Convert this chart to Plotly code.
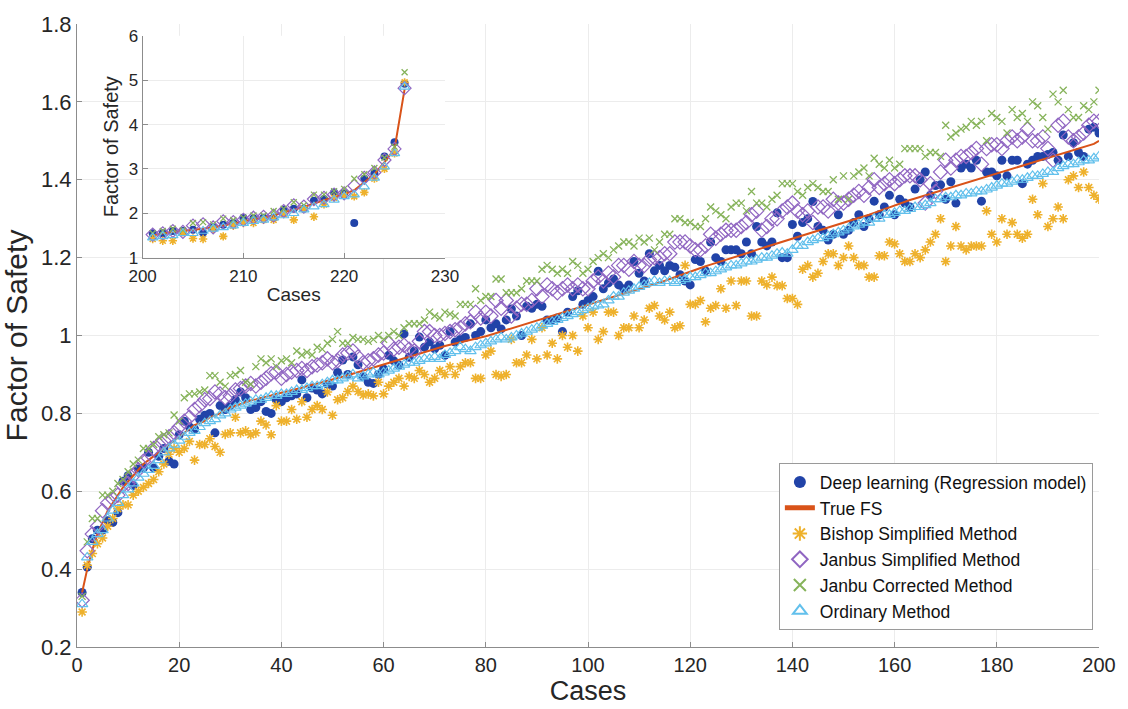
import plotly.graph_objects as go

# ---------------- main chart data (cases 1..200) ----------------
cases = list(range(1, 201))

true_fs = [
    0.34, 0.40, 0.45, 0.49, 0.52, 0.55, 0.57, 0.59, 0.61, 0.625,
    0.64, 0.655, 0.67, 0.68, 0.69, 0.70, 0.71, 0.72, 0.73, 0.74,
    0.75, 0.76, 0.77, 0.775, 0.78, 0.79, 0.795, 0.80, 0.81, 0.815,
    0.82, 0.825, 0.83, 0.833, 0.836, 0.84, 0.843, 0.846, 0.85, 0.853,
    0.857, 0.86, 0.863, 0.866, 0.87, 0.873, 0.876, 0.88, 0.883, 0.887,
    0.89, 0.894, 0.898, 0.902, 0.906, 0.91, 0.914, 0.918, 0.922, 0.926,
    0.93, 0.934, 0.938, 0.942, 0.946, 0.95, 0.954, 0.958, 0.962, 0.966,
    0.97, 0.973, 0.976, 0.979, 0.982, 0.985, 0.988, 0.991, 0.994, 0.998,
    1.002, 1.006, 1.01, 1.014, 1.018, 1.022, 1.026, 1.03, 1.034, 1.038,
    1.042, 1.046, 1.05, 1.054, 1.058, 1.062, 1.066, 1.07, 1.074, 1.078,
    1.082, 1.086, 1.09, 1.094, 1.098, 1.102, 1.106, 1.11, 1.114, 1.118,
    1.122, 1.126, 1.13, 1.135, 1.14, 1.145, 1.15, 1.155, 1.16, 1.165,
    1.17, 1.174, 1.178, 1.182, 1.186, 1.19, 1.194, 1.198, 1.202, 1.206,
    1.21, 1.215, 1.22, 1.224, 1.228, 1.232, 1.236, 1.24, 1.244, 1.248,
    1.252, 1.256, 1.26, 1.264, 1.268, 1.272, 1.276, 1.28, 1.285, 1.29,
    1.294, 1.298, 1.302, 1.306, 1.31, 1.315, 1.32, 1.325, 1.33, 1.335,
    1.34, 1.344, 1.348, 1.352, 1.356, 1.36, 1.364, 1.368, 1.372, 1.376,
    1.38, 1.384, 1.388, 1.392, 1.396, 1.40, 1.404, 1.408, 1.412, 1.416,
    1.42, 1.424, 1.428, 1.432, 1.436, 1.44, 1.444, 1.448, 1.452, 1.456,
    1.46, 1.464, 1.468, 1.472, 1.476, 1.48, 1.484, 1.488, 1.492, 1.50,
]

deep_learning = [
    0.34, 0.405, 0.478, 0.50, 0.50, 0.524, 0.52, 0.545, 0.626, 0.64,
    0.615, 0.657, 0.66, 0.70, 0.66, 0.69, 0.71, 0.677, 0.67, 0.745,
    0.78, 0.765, 0.76, 0.785, 0.795, 0.80, 0.75, 0.82, 0.81, 0.82,
    0.835, 0.855, 0.84, 0.81, 0.815, 0.83, 0.805, 0.80, 0.835, 0.83,
    0.84, 0.845, 0.85, 0.886, 0.84, 0.865, 0.86, 0.85, 0.875, 0.87,
    0.905, 0.937, 0.90, 0.945, 0.925, 0.894, 0.88, 0.877, 0.90, 0.914,
    0.949, 0.935, 0.924, 1.004, 0.944, 0.96, 0.996, 0.97, 0.983, 0.966,
    0.975, 0.949, 1.01, 0.983, 0.99, 0.995, 1.03, 1.0, 1.01, 1.04,
    1.02, 1.03, 1.017, 1.04, 1.068, 1.05, 1.0, 1.075, 1.07, 1.08,
    1.075, 1.04, 1.04, 1.045, 1.01, 1.06, 1.10, 1.115, 1.08, 1.09,
    1.10, 1.165, 1.12, 1.135, 1.145, 1.13, 1.12, 1.13, 1.19, 1.16,
    1.14, 1.21, 1.166, 1.18, 1.166, 1.18, 1.175, 1.156, 1.14, 1.13,
    1.195, 1.19, 1.166, 1.24, 1.20, 1.19, 1.22, 1.22, 1.22, 1.21,
    1.24, 1.21, 1.28, 1.24, 1.23, 1.24, 1.315, 1.20, 1.20, 1.285,
    1.255, 1.29, 1.30, 1.344, 1.28, 1.27, 1.245, 1.26, 1.31, 1.26,
    1.27, 1.29, 1.31, 1.28, 1.30, 1.345, 1.31, 1.33, 1.36, 1.31,
    1.35, 1.34, 1.33, 1.376, 1.40, 1.42, 1.36, 1.385, 1.387, 1.35,
    1.395, 1.34, 1.43, 1.44, 1.43, 1.45, 1.345, 1.42, 1.42, 1.41,
    1.45, 1.41, 1.45, 1.45, 1.39, 1.44, 1.45, 1.46, 1.46, 1.465,
    1.47, 1.45, 1.515, 1.46, 1.495, 1.47, 1.46, 1.53, 1.535, 1.52,
]

bishop = [
    0.29, 0.41, 0.44, 0.465, 0.48, 0.51, 0.53, 0.555, 0.565, 0.565,
    0.59, 0.60, 0.61, 0.62, 0.63, 0.65, 0.67, 0.695, 0.71, 0.70,
    0.71, 0.728, 0.68, 0.72, 0.72, 0.735, 0.715, 0.70, 0.746, 0.75,
    0.79, 0.75, 0.755, 0.745, 0.75, 0.78, 0.77, 0.745, 0.82, 0.78,
    0.78, 0.81, 0.785, 0.83, 0.79, 0.81, 0.82, 0.81, 0.855, 0.795,
    0.835, 0.84, 0.856, 0.87, 0.856, 0.847, 0.85, 0.845, 0.88, 0.85,
    0.87, 0.88, 0.89, 0.87, 0.895, 0.89, 0.91, 0.90, 0.88, 0.89,
    0.91, 0.90, 0.92, 0.90, 0.92, 0.93, 0.93, 0.89, 0.89, 0.95,
    0.96, 0.90, 0.895, 0.90, 0.99, 0.93, 0.93, 0.95, 0.99, 0.94,
    1.02, 0.95, 0.98, 0.94, 1.00, 0.97, 1.00, 0.96, 1.05, 1.02,
    1.06, 0.99, 1.01, 1.06, 1.06, 1.00, 1.02, 1.02, 1.05, 1.02,
    1.04, 1.07, 1.077, 1.05, 1.04, 1.06, 1.02, 1.025, 1.18, 1.08,
    1.08, 1.09, 1.035, 1.07, 1.077, 1.12, 1.07, 1.14, 1.077, 1.14,
    1.14, 1.05, 1.05, 1.14, 1.13, 1.15, 1.128, 1.128, 1.095, 1.095,
    1.08, 1.17, 1.18, 1.15, 1.16, 1.19, 1.21, 1.21, 1.18, 1.20,
    1.23, 1.20, 1.18, 1.18, 1.15, 1.15, 1.205, 1.205, 1.24, 1.235,
    1.21, 1.19, 1.19, 1.21, 1.20, 1.22, 1.24, 1.26, 1.30, 1.19,
    1.23, 1.28, 1.23, 1.22, 1.23, 1.23, 1.23, 1.32, 1.26, 1.24,
    1.30, 1.26, 1.29, 1.26, 1.25, 1.26, 1.35, 1.31, 1.39, 1.28,
    1.30, 1.33, 1.30, 1.40, 1.41, 1.38, 1.42, 1.38, 1.36, 1.35,
]

janbu_simplified = [
    0.32, 0.447, 0.49, 0.51, 0.55, 0.57, 0.58, 0.59, 0.615, 0.62,
    0.64, 0.655, 0.677, 0.685, 0.71, 0.72, 0.73, 0.74, 0.75, 0.765,
    0.78, 0.79, 0.81, 0.82, 0.835, 0.838, 0.855, 0.85, 0.84, 0.845,
    0.86, 0.864, 0.87, 0.877, 0.87, 0.88, 0.89, 0.902, 0.906, 0.89,
    0.90, 0.906, 0.91, 0.915, 0.91, 0.92, 0.924, 0.93, 0.94, 0.93,
    0.935, 0.95, 0.955, 0.96, 0.945, 0.93, 0.935, 0.94, 0.95, 0.955,
    0.98, 0.965, 0.97, 0.975, 0.965, 0.96, 0.985, 1.01, 1.01, 1.00,
    1.00, 1.005, 1.01, 1.015, 1.02, 1.03, 1.035, 1.06, 1.045, 1.06,
    1.05, 1.09, 1.07, 1.09, 1.05, 1.07, 1.08, 1.08, 1.09, 1.12,
    1.10, 1.13, 1.12, 1.11, 1.12, 1.13, 1.12, 1.13, 1.12, 1.12,
    1.14, 1.15, 1.14, 1.16, 1.15, 1.18, 1.18, 1.17, 1.19, 1.18,
    1.18, 1.195, 1.20, 1.20, 1.21, 1.21, 1.24, 1.24, 1.24, 1.23,
    1.22, 1.22, 1.23, 1.26, 1.25, 1.26, 1.27, 1.27, 1.27, 1.28,
    1.29, 1.31, 1.32, 1.27, 1.28, 1.30, 1.30, 1.32, 1.33, 1.34,
    1.32, 1.31, 1.32, 1.29, 1.33, 1.33, 1.32, 1.35, 1.34, 1.34,
    1.35, 1.36, 1.37, 1.36, 1.38, 1.40, 1.38, 1.39, 1.40, 1.39,
    1.40, 1.41, 1.41, 1.41, 1.40, 1.34, 1.39, 1.37, 1.42, 1.45,
    1.43, 1.45, 1.46, 1.46, 1.47, 1.48, 1.44, 1.48, 1.49, 1.49,
    1.48, 1.50, 1.51, 1.50, 1.51, 1.53, 1.50, 1.50, 1.51, 1.48,
    1.45, 1.54, 1.55, 1.51, 1.50, 1.51, 1.52, 1.54, 1.55, 1.55,
]

janbu_corrected = [
    0.33, 0.47, 0.53, 0.53, 0.59, 0.59, 0.60, 0.62, 0.63, 0.65,
    0.67, 0.68, 0.71, 0.71, 0.72, 0.74, 0.745, 0.75, 0.796, 0.78,
    0.84, 0.85, 0.85, 0.855, 0.86, 0.897, 0.897, 0.88, 0.87, 0.897,
    0.90, 0.91, 0.88, 0.875, 0.92, 0.94, 0.93, 0.94, 0.92, 0.935,
    0.94, 0.93, 0.96, 0.95, 0.957, 0.95, 0.97, 0.965, 0.98, 0.99,
    1.01, 0.98, 0.98, 0.995, 0.99, 0.99, 0.985, 0.99, 1.00, 0.99,
    1.00, 1.01, 1.00, 1.02, 1.03, 1.03, 1.03, 1.04, 1.06, 1.05,
    1.045, 1.06, 1.055, 1.05, 1.08, 1.08, 1.08, 1.12, 1.09, 1.10,
    1.10, 1.145, 1.145, 1.11, 1.11, 1.11, 1.12, 1.14, 1.14, 1.14,
    1.17, 1.18, 1.17, 1.16, 1.17, 1.16, 1.19, 1.18, 1.16, 1.17,
    1.19, 1.20, 1.21, 1.20, 1.22, 1.23, 1.24, 1.24, 1.23, 1.25,
    1.24, 1.25, 1.22, 1.24, 1.26, 1.26, 1.30, 1.30, 1.29, 1.29,
    1.28, 1.28, 1.30, 1.33, 1.32, 1.31, 1.30, 1.33, 1.34, 1.34,
    1.32, 1.37, 1.34, 1.34, 1.33, 1.35, 1.36, 1.39, 1.39, 1.39,
    1.37, 1.36, 1.38, 1.39, 1.38, 1.37, 1.37, 1.40, 1.35, 1.41,
    1.35, 1.41, 1.42, 1.43, 1.41, 1.455, 1.44, 1.43, 1.45, 1.43,
    1.44, 1.48, 1.48, 1.48, 1.48, 1.46, 1.47, 1.47, 1.46, 1.54,
    1.51, 1.52, 1.53, 1.535, 1.55, 1.54, 1.55, 1.50, 1.57, 1.56,
    1.55, 1.52, 1.58, 1.56, 1.57, 1.55, 1.60, 1.59, 1.56, 1.53,
    1.62, 1.60, 1.63, 1.58, 1.56, 1.56, 1.59, 1.58, 1.60, 1.63,
]

ordinary = [
    0.31, 0.43, 0.47, 0.49, 0.50, 0.53, 0.55, 0.57, 0.59, 0.605,
    0.62, 0.635, 0.645, 0.655, 0.665, 0.68, 0.70, 0.71, 0.72, 0.73,
    0.74, 0.75, 0.755, 0.765, 0.775, 0.78, 0.785, 0.795, 0.80, 0.81,
    0.815, 0.82, 0.825, 0.83, 0.835, 0.835, 0.84, 0.845, 0.845, 0.85,
    0.85, 0.855, 0.86, 0.86, 0.865, 0.87, 0.87, 0.875, 0.88, 0.885,
    0.885, 0.89, 0.895, 0.90, 0.89, 0.895, 0.90, 0.905, 0.90, 0.905,
    0.91, 0.915, 0.92, 0.925, 0.93, 0.93, 0.935, 0.94, 0.94, 0.945,
    0.94, 0.95, 0.955, 0.96, 0.97, 0.965, 0.96, 0.97, 0.975, 0.98,
    0.985, 0.99, 0.995, 0.99, 0.995, 1.00, 1.005, 1.01, 1.015, 1.02,
    1.025, 1.03, 1.035, 1.04, 1.045, 1.05, 1.055, 1.06, 1.065, 1.07,
    1.075, 1.077, 1.08, 1.09, 1.10, 1.10, 1.11, 1.115, 1.12, 1.125,
    1.13, 1.135, 1.14, 1.135, 1.14, 1.14, 1.135, 1.14, 1.145, 1.15,
    1.15, 1.155, 1.16, 1.16, 1.165, 1.17, 1.175, 1.18, 1.18, 1.185,
    1.19, 1.19, 1.195, 1.20, 1.20, 1.205, 1.21, 1.213, 1.21, 1.22,
    1.23, 1.23, 1.24, 1.245, 1.25, 1.25, 1.255, 1.26, 1.265, 1.27,
    1.275, 1.28, 1.285, 1.29, 1.29, 1.30, 1.30, 1.31, 1.31, 1.315,
    1.32, 1.32, 1.325, 1.33, 1.33, 1.335, 1.34, 1.35, 1.35, 1.355,
    1.355, 1.36, 1.36, 1.365, 1.365, 1.37, 1.37, 1.375, 1.38, 1.385,
    1.39, 1.39, 1.395, 1.40, 1.40, 1.405, 1.41, 1.41, 1.415, 1.42,
    1.42, 1.43, 1.435, 1.44, 1.44, 1.445, 1.45, 1.45, 1.455, 1.46,
]

# ---------------- inset data (cases 201..226) ----------------
inset_cases = list(range(201, 227))
inset_true = [1.50, 1.55, 1.58, 1.60, 1.63, 1.65, 1.68, 1.72, 1.77, 1.82,
              1.86, 1.90, 1.95, 2.02, 2.08, 2.14, 2.22, 2.30, 2.37, 2.43,
              2.52, 2.70, 2.88, 3.15, 3.45, 4.80]
inset_dl = [1.55, 1.55, 1.60, 1.60, 1.63, 1.56, 1.68, 1.74, 1.78, 1.90,
            1.88, 1.90, 1.90, 2.08, 2.10, 2.10, 2.28, 2.32, 2.47, 2.45,
            1.78, 2.78, 2.90, 3.28, 3.60, 4.92]
inset_bishop = [1.42, 1.38, 1.38, 1.57, 1.43, 1.42, 1.65, 1.48, 1.72, 1.78,
                1.78, 1.85, 1.85, 1.98, 1.85, 2.10, 1.92, 2.20, 2.35, 2.40,
                2.38, 2.47, 2.78, 3.00, 3.35, 4.95]
inset_janbu_s = [1.52, 1.55, 1.60, 1.58, 1.72, 1.75, 1.68, 1.82, 1.80, 1.85,
                 1.90, 1.92, 1.95, 2.05, 2.18, 2.15, 2.32, 2.35, 2.42, 2.45,
                 2.62, 2.80, 2.92, 3.20, 3.45, 4.82]
inset_janbu_c = [1.55, 1.60, 1.65, 1.62, 1.78, 1.80, 1.75, 1.88, 1.85, 1.90,
                 1.95, 1.95, 2.05, 2.10, 2.25, 2.18, 2.42, 2.42, 2.50, 2.55,
                 2.78, 2.88, 3.02, 3.25, 3.50, 5.18]
inset_ordinary = [1.45, 1.48, 1.50, 1.55, 1.55, 1.60, 1.65, 1.68, 1.72, 1.78,
                  1.82, 1.85, 1.90, 1.95, 2.00, 2.08, 2.15, 2.20, 2.30, 2.38,
                  2.42, 2.60, 2.80, 3.05, 3.35, 4.85]

names = ["Deep learning (Regression model)", "True FS", "Bishop Simplified Method",
         "Janbus Simplified Method", "Janbu Corrected Method", "Ordinary Method"]

C_DL = "#2143a8"
C_TRUE = "#d95319"
C_BISHOP = "#eeb12c"
C_JS = "#9066c2"
C_JC = "#86b35a"
C_ORD = "#62c0ec"

FONT = "Liberation Sans, Arial, Helvetica, sans-serif"
TXT = "#262626"

fig = go.Figure()


def add_series(x, dl, tr, bi, js, jc, od, xa, ya, show, msize):
    fig.add_trace(go.Scatter(x=x, y=dl, mode="markers", name=names[0], legendrank=1,
                             showlegend=show, xaxis=xa, yaxis=ya,
                             marker=dict(symbol="circle", size=msize, color=C_DL,
                                         line=dict(width=0))))
    fig.add_trace(go.Scatter(x=x, y=tr, mode="lines", name=names[1], legendrank=2,
                             showlegend=show, xaxis=xa, yaxis=ya,
                             line=dict(color=C_TRUE, width=2)))
    fig.add_trace(go.Scatter(x=x, y=bi, mode="markers", name=names[2], legendrank=3,
                             showlegend=show, xaxis=xa, yaxis=ya,
                             marker=dict(symbol="asterisk-open", size=msize - 1, color=C_BISHOP,
                                         line=dict(color=C_BISHOP, width=1.6))))
    fig.add_trace(go.Scatter(x=x, y=js, mode="markers", name=names[3], legendrank=4,
                             showlegend=show, xaxis=xa, yaxis=ya,
                             marker=dict(symbol="diamond-open", size=msize + 2,
                                         color=C_JS, line=dict(color=C_JS, width=1.2))))
    fig.add_trace(go.Scatter(x=x, y=jc, mode="markers", name=names[4], legendrank=5,
                             showlegend=show, xaxis=xa, yaxis=ya,
                             marker=dict(symbol="x-thin-open", size=msize - 2, color=C_JC,
                                         line=dict(color=C_JC, width=1.3))))
    fig.add_trace(go.Scatter(x=x, y=od, mode="markers", name=names[5], legendrank=6,
                             showlegend=show, xaxis=xa, yaxis=ya,
                             marker=dict(symbol="triangle-up-open", size=msize + 1,
                                         color=C_ORD, line=dict(color=C_ORD, width=1.2))))


add_series(cases, deep_learning, true_fs, bishop, janbu_simplified, janbu_corrected,
           ordinary, "x", "y", True, 9)
add_series(inset_cases, inset_dl, inset_true, inset_bishop, inset_janbu_s,
           inset_janbu_c, inset_ordinary, "x2", "y2", False, 8)

axis_common = dict(showline=True, linecolor="#8c8c8c", linewidth=1, ticks="inside",
                   ticklen=5, tickcolor="#8c8c8c", showgrid=True, gridcolor="#ececec",
                   gridwidth=1, zeroline=False, mirror=False)

# white background for the inset (drawn in the inset subplot's own back layer)
fig.add_shape(type="rect", xref="x2", yref="y2", x0=200, x1=230, y0=1, y1=6,
              fillcolor="white", line=dict(width=0), layer="below")

fig.update_layout(
    width=1128, height=709,
    margin=dict(l=77, r=23, t=20, b=62),
    paper_bgcolor="white", plot_bgcolor="white",
    font=dict(family=FONT, color=TXT),
    xaxis=dict(range=[0, 200], tickvals=[0, 20, 40, 60, 80, 100, 120, 140, 160, 180, 200],
               tickfont=dict(size=20), title=dict(text="Cases", font=dict(size=27), standoff=2),
               domain=[0, 1], anchor="y", **axis_common),
    yaxis=dict(range=[0.2, 1.8], tickvals=[0.2, 0.4, 0.6, 0.8, 1.0, 1.2, 1.4, 1.6, 1.8],
               ticktext=["0.2", "0.4", "0.6", "0.8", "1", "1.2", "1.4", "1.6", "1.8"],
               tickfont=dict(size=22), title=dict(text="Factor of Safety", font=dict(size=30), standoff=6),
               domain=[0, 1], anchor="x", **axis_common),
    xaxis2=dict(range=[200, 230], tickvals=[200, 210, 220, 230], tickfont=dict(size=17),
                title=dict(text="Cases", font=dict(size=19), standoff=2), ticklabelstandoff=3,
                domain=[0.0642, 0.36], anchor="y2", **axis_common),
    yaxis2=dict(range=[1, 6], tickvals=[1, 2, 3, 4, 5, 6], tickfont=dict(size=17),
                title=dict(text="Factor of Safety", font=dict(size=20), standoff=4),
                domain=[0.625, 0.981], anchor="x2", **axis_common),
    legend=dict(x=0.994, y=0.027, xanchor="right", yanchor="bottom",
                bgcolor="white", bordercolor="#9a9a9a", borderwidth=1,
                font=dict(size=17.5, color="#111111"), tracegroupgap=0,
                itemsizing="constant", itemwidth=30),
    showlegend=True,
)

fig.write_html("out.html")
